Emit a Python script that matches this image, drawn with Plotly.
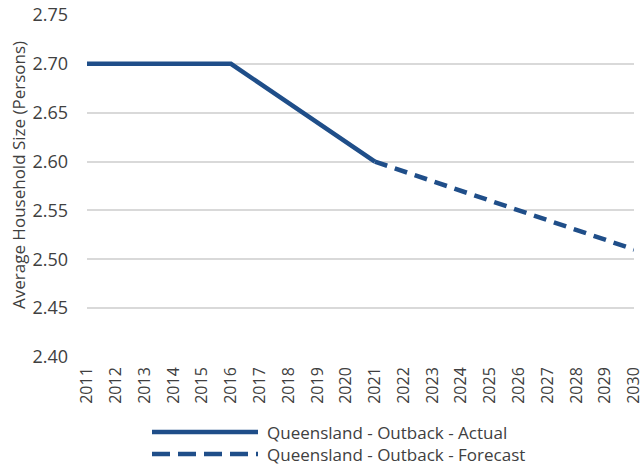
import plotly.graph_objects as go

years_actual = [2011, 2012, 2013, 2014, 2015, 2016, 2017, 2018, 2019, 2020, 2021]
actual = [2.70, 2.70, 2.70, 2.70, 2.70, 2.70, 2.68, 2.66, 2.64, 2.62, 2.60]
years_forecast = [2021, 2022, 2023, 2024, 2025, 2026, 2027, 2028, 2029, 2030]
forecast = [2.60, 2.59, 2.58, 2.57, 2.56, 2.55, 2.54, 2.53, 2.52, 2.51]
y_ticks = [2.40, 2.45, 2.50, 2.55, 2.60, 2.65, 2.70, 2.75]
x_ticks = list(range(2011, 2031))
series_names = ["Queensland - Outback - Actual", "Queensland - Outback - Forecast"]
y_title = "Average Household Size (Persons)"

COLOR = "#1F4E89"
FONT = "Open Sans"
TXT = "#404040"

fig = go.Figure()
fig.add_trace(go.Scatter(x=years_actual, y=actual, mode="lines", name=series_names[0],
                         line=dict(color=COLOR, width=4.5), showlegend=False))
fig.add_trace(go.Scatter(x=years_forecast, y=forecast, mode="lines", name=series_names[1],
                         line=dict(color=COLOR, width=4.5, dash="13px,8px"), showlegend=False))

W, H = 643, 470
L, R, T, B = 87, 9, 15, 113
pw = W - L - R
ph = H - T - B

def px_to_paper_x(px):
    return (px - L) / pw

def px_to_paper_y(py):
    return (H - B - py) / ph

# custom legend (long sample lines as in reference)
rows = [(432, None), (454, "18px,8px")]
for (py, dash), name in zip(rows, series_names):
    ln = dict(color=COLOR, width=4.5)
    if dash:
        ln["dash"] = dash
    fig.add_shape(type="line", xref="paper", yref="paper",
                  x0=px_to_paper_x(152), x1=px_to_paper_x(258),
                  y0=px_to_paper_y(py), y1=px_to_paper_y(py), line=ln)
    fig.add_annotation(xref="paper", yref="paper", x=px_to_paper_x(265), y=px_to_paper_y(py),
                       text=name, showarrow=False, xanchor="left", yanchor="middle",
                       font=dict(family=FONT, size=17, color=TXT))

# y-axis title
fig.add_annotation(xref="paper", yref="paper", x=px_to_paper_x(18), y=px_to_paper_y(175),
                   text=y_title, textangle=-90, showarrow=False,
                   xanchor="center", yanchor="middle",
                   font=dict(family=FONT, size=17, color=TXT))

fig.update_layout(
    width=W, height=H,
    margin=dict(l=L, r=R, t=T, b=B, pad=0),
    paper_bgcolor="white", plot_bgcolor="white",
    font=dict(family=FONT, size=15, color=TXT),
)
fig.update_xaxes(range=[2011, 2030], tickmode="array", tickvals=x_ticks,
                 ticktext=[str(y) for y in x_ticks], tickangle=-90, automargin=False,
                 ticklabeloverflow="allow",
                 showgrid=False, zeroline=False, showline=False, ticks="",
                 ticklabelstandoff=6, tickfont=dict(family=FONT, size=16, color=TXT))
fig.update_yaxes(range=[2.40, 2.75], tickmode="array", tickvals=y_ticks,
                 ticktext=[f"{v:.2f}" for v in y_ticks], automargin=False,
                 ticklabeloverflow="allow",
                 showgrid=True, gridcolor="#D9D9D9", gridwidth=2, zeroline=False,
                 showline=False, ticks="", ticklabelstandoff=18,
                 tickfont=dict(family=FONT, size=18, color=TXT))

fig.write_html("out.html", config={"displayModeBar": False},
               post_script="document.body.style.margin='0';document.body.style.overflow='hidden';")
